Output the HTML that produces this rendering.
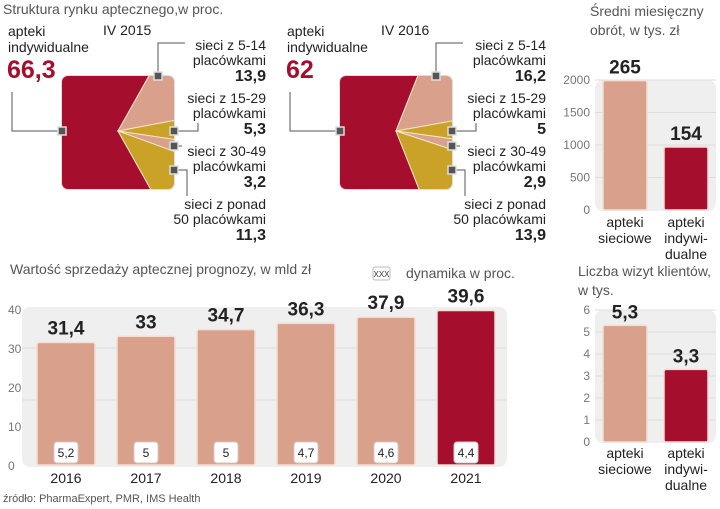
<!DOCTYPE html>
<html><head><meta charset="utf-8">
<style>
body{margin:0;background:#fff;}
svg{display:block;font-family:"Liberation Sans",sans-serif;}
.t{fill:#555;font-size:14px;}
.lb{fill:#222;font-size:14px;}
.num{font-family:"Liberation Sans Narrow","Liberation Sans",sans-serif;font-weight:bold;fill:#222;}
.ax{fill:#777;font-size:12px;}
</style></head>
<body>
<svg id="s" width="720" height="509" viewBox="0 0 720 509" xmlns="http://www.w3.org/2000/svg">
<defs>
<clipPath id="c15"><rect x="62" y="76" width="112" height="113" rx="6"/></clipPath>
<clipPath id="c16"><rect x="340" y="76" width="112" height="113" rx="6"/></clipPath>
</defs>
<text x="3" y="14" class="t">Struktura rynku aptecznego,w proc.</text>
<text x="103" y="35" class="lb">IV 2015</text>
<text x="381" y="35" class="lb">IV 2016</text>
<g id="pies"></g>
<g>
<text x="266" y="50" text-anchor="end" class="lb">sieci z 5-14</text>
<text x="266" y="65" text-anchor="end" class="lb">placówkami</text>
<text x="266" y="81" text-anchor="end" class="num" font-size="16">13,9</text>
<text x="266" y="103" text-anchor="end" class="lb">sieci z 15-29</text>
<text x="266" y="118" text-anchor="end" class="lb">placówkami</text>
<text x="266" y="134" text-anchor="end" class="num" font-size="16">5,3</text>
<text x="266" y="156" text-anchor="end" class="lb">sieci z 30-49</text>
<text x="266" y="171" text-anchor="end" class="lb">placówkami</text>
<text x="266" y="187" text-anchor="end" class="num" font-size="16">3,2</text>
<text x="266" y="209" text-anchor="end" class="lb">sieci z ponad</text>
<text x="266" y="224" text-anchor="end" class="lb">50 placówkami</text>
<text x="266" y="240" text-anchor="end" class="num" font-size="16">11,3</text>
</g>
<g>
<text x="546" y="50" text-anchor="end" class="lb">sieci z 5-14</text>
<text x="546" y="65" text-anchor="end" class="lb">placówkami</text>
<text x="546" y="81" text-anchor="end" class="num" font-size="16">16,2</text>
<text x="546" y="103" text-anchor="end" class="lb">sieci z 15-29</text>
<text x="546" y="118" text-anchor="end" class="lb">placówkami</text>
<text x="546" y="134" text-anchor="end" class="num" font-size="16">5</text>
<text x="546" y="156" text-anchor="end" class="lb">sieci z 30-49</text>
<text x="546" y="171" text-anchor="end" class="lb">placówkami</text>
<text x="546" y="187" text-anchor="end" class="num" font-size="16">2,9</text>
<text x="546" y="209" text-anchor="end" class="lb">sieci z ponad</text>
<text x="546" y="224" text-anchor="end" class="lb">50 placówkami</text>
<text x="546" y="240" text-anchor="end" class="num" font-size="16">13,9</text>
</g>
<text x="8" y="36" class="lb">apteki</text>
<text x="8" y="52" class="lb">indywidualne</text>
<text x="7" y="78" class="num" font-size="25" style="fill:#a50f2d">66,3</text>
<text x="287" y="36" class="lb">apteki</text>
<text x="287" y="52" class="lb">indywidualne</text>
<text x="286" y="78" class="num" font-size="25" style="fill:#a50f2d">62</text>

<text x="590" y="16" class="t">Średni miesięczny</text>
<text x="590" y="35" class="t">obrót, w tys. zł</text>
<text x="578" y="276" class="t">Liczba wizyt klientów,</text>
<text x="578" y="295" class="t">w tys.</text>

<text x="10" y="274" class="t">Wartość sprzedaży aptecznej prognozy, w mld zł</text>
<rect x="373" y="267" width="17" height="13" rx="2" fill="#fff" stroke="#bbb"/>
<text x="381.5" y="277" text-anchor="middle" font-size="8" fill="#333">XXX</text>
<text x="406" y="278" class="t">dynamika w proc.</text>
<text x="3" y="502" font-size="11" fill="#555">źródło: PharmaExpert, PMR, IMS Health</text>
<g id="charts"></g>
</svg>
<script>
const NS="http://www.w3.org/2000/svg";
const svg=document.getElementById('s');
function mk(tag,at,parent){const e=document.createElementNS(NS,tag);for(const k in at)e.setAttribute(k,at[k]);(parent||svg).appendChild(e);return e;}
const RED="#a50f2d",PINK="#d9a08b",GOLD="#c9a227";

// pie data
const pieYears=["2015","2016"];
const pie2015=[66.3,13.9,5.3,3.2,11.3];
const pie2016=[62,16.2,5,2.9,13.9];
const pieColors=[RED,PINK,GOLD,PINK,GOLD];
const pg=document.getElementById('pies');
function drawPie(vals,ox,clip,yr){
  const cx=ox+56,cy=131;
  mk('rect',{x:ox,y:76,width:112,height:113,rx:6,fill:"#fff",stroke:"#ddd","stroke-width":2},pg);
  const g=mk('g',{'clip-path':'url(#'+clip+')'},pg);
  
  
  const tot=vals.reduce((a,b)=>a+b,0);
  let a=180-vals[0]/tot*180;
  vals.forEach((v,i)=>{
    const sw=v/tot*360,a2=a+sw,R=200;
    const r=x=>x*Math.PI/180;
    const d=`M${cx},${cy}L${cx+R*Math.cos(r(a))},${cy+R*Math.sin(r(a))}A${R},${R} 0 ${sw>180?1:0} 1 ${cx+R*Math.cos(r(a2))},${cy+R*Math.sin(r(a2))}Z`;
    const p=mk('path',{d,fill:pieColors[i],stroke:"#f5e6c8","stroke-width":1},g);
    
    
    a=a2;
  });
  const L=mk('g',{stroke:"#555","stroke-width":1,fill:"none"},pg);
  
  
  const lx=ox-50;
  mk('path',{d:`M${lx},92V131H${ox}`},L);
  mk('path',{d:`M${ox+96},76V43H${ox+123}`},L);
  mk('path',{d:`M${ox+112},131H${ox+136}V123`},L);
  mk('path',{d:`M${ox+112},146H${ox+120}`},L);
  mk('path',{d:`M${ox+112},170H${ox+125}V196`},L);
  [[ox,131],[ox+96,76],[ox+112,131],[ox+112,146],[ox+112,170]].forEach(([x,y])=>{
    const m=mk('rect',{x:x-4,y:y-4,width:8,height:8,fill:"#555",stroke:"#ddd","stroke-width":1.5},pg);
    
    
  });
}
drawPie(pie2015,62,'c15',pieYears[0]);
drawPie(pie2016,340,'c16',pieYears[1]);

// sales chart data
const salesYears=["2016","2017","2018","2019","2020","2021"];
const salesValues=[31.4,33,34.7,36.3,37.9,39.6];
const salesLabels=["31,4","33","34,7","36,3","37,9","39,6"];
const dynLabels=["5,2","5","5","4,7","4,6","4,4"];
const salesTicks=[0,10,20,30,40];
const cg=document.getElementById('charts');
(function(){
  const y=v=>465-v*3.9, x=i=>66+i*80;
  const bg=mk('rect',{x:22,y:307,width:485,height:160,rx:8,fill:"#efefef"},cg);
  
  
  mk('line',{x1:22,x2:507,y1:y(30),y2:y(30),stroke:"#ddd"},cg);
  mk('line',{x1:22,x2:507,y1:y(20)+13,y2:y(20)+13,stroke:"#ddd"},cg);
  salesTicks.forEach(t=>{
    const e=mk('text',{x:8,y:y(t)+5,class:'ax'},cg);e.textContent=t;
    
    
  });
  salesValues.forEach((v,i)=>{
    const last=i===salesValues.length-1;
    const b=mk('rect',{x:x(i)-29,y:y(v),width:58,height:y(0)-y(v),rx:2,fill:last?RED:PINK,stroke:"#f3ddd5","stroke-width":1.5},cg);
    
    
    const t=mk('text',{x:x(i),y:y(v)-8,'text-anchor':'middle',class:'num','font-size':19},cg);t.textContent=salesLabels[i];
    
    
    const db=mk('rect',{x:x(i)-12,y:442,width:24,height:21,rx:3,fill:"#fff",stroke:"#ccc"},cg);
    
    
    const dt=mk('text',{x:x(i),y:457,'text-anchor':'middle','font-size':12,fill:'#222',style:'font-weight:normal'},cg);dt.textContent=dynLabels[i];
    
    
    const yl=mk('text',{x:x(i),y:483,'text-anchor':'middle',class:'lb','font-size':15},cg);yl.textContent=salesYears[i];
    
    
  });
})();

// right charts
const catLines=[["apteki","sieciowe"],["apteki","indywi-","dualne"]];
const turnoverHeights=[1990,970];
const turnoverLabels=["265","154"];
const turnoverTicks=[0,500,1000,1500,2000];
const visitValues=[5.3,3.3];
const visitLabels=["5,3","3,3"];
const visitTicks=[0,1,2,3,4,5,6];
function small(vals,labels,ticks,base,scale,bgTop,name,catY){
  const y=v=>base-v*scale, xs=[625,686];
  const bg=mk('rect',{x:595,y:bgTop,width:121,height:base-bgTop+1,rx:8,fill:"#efefef"},cg);
  
  
  ticks.forEach(t=>{
    if(t>0)mk('line',{x1:595,x2:716,y1:y(t),y2:y(t),stroke:"#ddd"},cg);
    const e=mk('text',{x:590,y:y(t)+4,'text-anchor':'end',class:'ax'},cg);e.textContent=t;
    
    
  });
  vals.forEach((v,i)=>{
    const b=mk('rect',{x:xs[i]-22,y:y(v),width:44,height:base-y(v),rx:2,fill:i?RED:PINK,stroke:"#f3ddd5","stroke-width":1.5},cg);
    
    
    const t=mk('text',{x:xs[i],y:y(v)-7,'text-anchor':'middle',class:'num','font-size':19},cg);t.textContent=labels[i];
    
    
    catLines[i].forEach((l,j)=>{
      const c=mk('text',{x:xs[i],y:catY+j*16,'text-anchor':'middle',class:'lb'},cg);c.textContent=l;
      
      
    });
  });
}
small(turnoverHeights,turnoverLabels,turnoverTicks,210,0.065,80,'turnover',227);
small(visitValues,visitLabels,visitTicks,442,22,310,'visits',458);
</script>
</body></html>
